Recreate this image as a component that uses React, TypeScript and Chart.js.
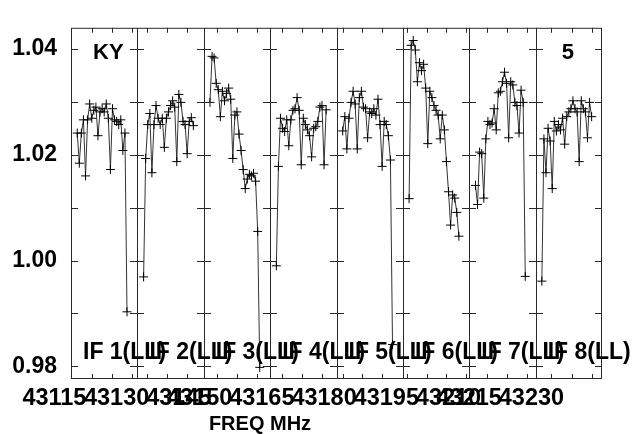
import { useEffect, useRef } from "react";
import { Chart, registerables } from "chart.js";

Chart.register(...registerables);

// ---- data -----------------------------------------------------------------
const SOURCE_NAME = "KY";
const PANEL_TAG = "5";
const X_TITLE = "FREQ MHz";

const IF_NAMES = ["IF 1(LL)", "IF 2(LL)", "IF 3(LL)", "IF 4(LL)", "IF 5(LL)", "IF 6(LL)", "IF 7(LL)", "IF 8(LL)"];
const IF_START_MHZ = [43119, 43135, 43151, 43167, 43183, 43199, 43215, 43231];
const IF_BANDWIDTH_MHZ = 16;
const FIRST_CHANNEL_OFFSET_MHZ = 1.5;
const CHANNEL_SPACING_MHZ = 0.5;

const IF1 = [1.0241, 1.0184, 1.0241, 1.0266, 1.016, 1.0266, 1.0296, 1.0269, 1.0284, 1.029, 1.0236, 1.0281, 1.0287, 1.0281, 1.0296, 1.0269, 1.0172, 1.0287, 1.0266, 1.0263, 1.0257, 1.0266, 1.0208, 1.0241, 0.9903];
const IF2 = [0.9969, 1.0193, 1.0257, 1.0278, 1.0166, 1.0257, 1.0293, 1.0269, 1.0257, 1.0269, 1.0214, 1.0269, 1.0281, 1.0293, 1.0302, 1.029, 1.0187, 1.0314, 1.0299, 1.0263, 1.0257, 1.0202, 1.0263, 1.027, 1.0255];
const IF3 = [1.0299, 1.0386, 1.0383, 1.0335, 1.0323, 1.0272, 1.032, 1.0302, 1.0316, 1.0326, 1.0305, 1.0193, 1.0275, 1.0281, 1.0239, 1.0208, 1.0172, 1.0136, 1.0154, 1.0163, 1.016, 1.0165, 1.015, 1.0055, 0.9798];
const IF4 = [0.999, 1.0178, 1.0269, 1.025, 1.0244, 1.0266, 1.0217, 1.0266, 1.0284, 1.0287, 1.0308, 1.0284, 1.0181, 1.0269, 1.0257, 1.0247, 1.0236, 1.0196, 1.025, 1.0253, 1.0263, 1.029, 1.0293, 1.0181, 1.0285];
const IF5 = [1.0245, 1.0272, 1.0211, 1.0269, 1.0299, 1.032, 1.0296, 1.0211, 1.0308, 1.032, 1.029, 1.0287, 1.0232, 1.0281, 1.0278, 1.0287, 1.0275, 1.0305, 1.0257, 1.0178, 1.0263, 1.0257, 1.0236, 1.019, 0.9841];
const IF6 = [1.0117, 1.0407, 1.0416, 1.0398, 1.0338, 1.0374, 1.0359, 1.0371, 1.0326, 1.0221, 1.032, 1.0308, 1.0293, 1.0284, 1.0275, 1.023, 1.0275, 1.0247, 1.0187, 1.013, 1.0067, 1.0124, 1.0118, 1.0091, 1.0046];
const IF7 = [1.0142, 1.0106, 1.0205, 1.0202, 1.0118, 1.023, 1.0263, 1.0257, 1.026, 1.0287, 1.0247, 1.0317, 1.032, 1.0338, 1.0356, 1.0335, 1.0232, 1.0338, 1.0332, 1.0299, 1.0293, 1.0241, 1.0322, 1.0299, 0.997];
const IF8 = [0.9961, 1.023, 1.0166, 1.025, 1.0226, 1.0136, 1.0263, 1.0245, 1.0257, 1.0247, 1.0269, 1.022, 1.0272, 1.0281, 1.0287, 1.0302, 1.0287, 1.0281, 1.0187, 1.0302, 1.0287, 1.0281, 1.0232, 1.0299, 1.0272];
const IF_SPECTRA = [IF1, IF2, IF3, IF4, IF5, IF6, IF7, IF8];

const X_TICK_VALUES = [
  43124.1, 43128.9, 43133.8,
  43137.4, 43142.2, 43147.0,
  43154.1, 43159.1, 43163.9,
  43169.8, 43174.7, 43179.6,
  43184.5, 43189.2, 43194.0,
  43199.9, 43204.7, 43209.5, 43214.3,
  43219.3, 43224.1, 43229.0,
  43234.8, 43239.8, 43244.6,
];
const X_LABEL_VALUES = [43115, 43130, 43145, 43150, 43165, 43180, 43195, 43210, 43215, 43230];
const X_LABELS = X_LABEL_VALUES.map((v) => String(v));

const Y_MIN = 0.9776;
const Y_MAX = 1.044;
const Y_TICK_VALUES = [0.98, 0.99, 1.0, 1.01, 1.02, 1.03, 1.04];
const Y_LABEL_VALUES = [0.98, 1.0, 1.02, 1.04];

// ---- drawing ----------------------------------------------------------------
const FONT_FAMILY = '"Liberation Sans", Arial, Helvetica, sans-serif';
const BOLD = (px: number) => `700 ${px}px ${FONT_FAMILY}`;

const framePlugin = {
  id: "possmFrame",
  afterDatasetsDraw(chart: any) {
    const { ctx, chartArea: a, scales } = chart;
    const xs = scales.x;
    const ys = scales.y;
    ctx.save();
    ctx.strokeStyle = "#2a2a2a";
    ctx.lineWidth = 1;

    // outer frame
    ctx.strokeRect(a.left + 0.5, a.top + 0.5, a.right - a.left - 1, a.bottom - a.top - 1);

    // IF dividers
    const bounds: number[] = [];
    IF_START_MHZ.forEach((s) => bounds.push(xs.getPixelForValue(s)));
    bounds.push(xs.getPixelForValue(IF_START_MHZ[IF_START_MHZ.length - 1] + IF_BANDWIDTH_MHZ));
    ctx.beginPath();
    for (let k = 1; k < bounds.length - 1; k++) {
      const px = Math.round(bounds[k]) + 0.5;
      ctx.moveTo(px, a.top);
      ctx.lineTo(px, a.bottom);
    }
    ctx.stroke();

    // y ticks on each panel edge
    ctx.beginPath();
    Y_TICK_VALUES.forEach((v) => {
      const py = Math.round(ys.getPixelForValue(v)) + 0.5;
      bounds.forEach((b, k) => {
        const bx = Math.round(b);
        const l = k === 0 ? bx : bx - 7;
        const r = k === bounds.length - 1 ? bx : bx + 7;
        ctx.moveTo(l, py);
        ctx.lineTo(r, py);
      });
    });
    ctx.stroke();

    // x ticks top & bottom
    ctx.beginPath();
    X_TICK_VALUES.forEach((v) => {
      const px = Math.round(xs.getPixelForValue(v)) + 0.5;
      ctx.moveTo(px, a.top);
      ctx.lineTo(px, a.top + 5);
      ctx.moveTo(px, a.bottom);
      ctx.lineTo(px, a.bottom - 5);
    });
    ctx.stroke();

    ctx.fillStyle = "#000";
    ctx.textBaseline = "middle";

    // source name and tag
    ctx.font = BOLD(22);
    ctx.textAlign = "left";
    ctx.fillText(SOURCE_NAME, a.left + 22, a.top + 25);
    ctx.textAlign = "right";
    ctx.fillText(PANEL_TAG, a.right - 28, a.top + 25);

    // IF names
    ctx.font = BOLD(23);
    ctx.textAlign = "left";
    IF_NAMES.forEach((name, k) => {
      ctx.fillText(name, bounds[k] + 12, a.bottom - 26);
    });

    // x tick labels
    ctx.font = BOLD(23.5);
    ctx.textAlign = "center";
    X_LABEL_VALUES.forEach((v, i) => {
      ctx.fillText(X_LABELS[i], xs.getPixelForValue(v), a.bottom + 20);
    });

    // x title
    ctx.font = BOLD(20);
    ctx.fillText(X_TITLE, a.left + 189, a.bottom + 45);
    ctx.restore();
  },
};

export default function App() {
  const ref = useRef<HTMLCanvasElement | null>(null);

  useEffect(() => {
    if (!ref.current) return;
    const datasets = IF_SPECTRA.map((vals, k) => ({
      label: IF_NAMES[k],
      data: vals.map((v, j) => ({
        x: IF_START_MHZ[k] + FIRST_CHANNEL_OFFSET_MHZ + j * CHANNEL_SPACING_MHZ,
        y: v,
      })),
      borderColor: "#333",
      borderWidth: 1,
      pointStyle: "cross",
      pointRadius: 4.5,
      pointBorderColor: "#000",
      pointBorderWidth: 1,
      pointBackgroundColor: "#000",
      fill: false,
      tension: 0,
    }));

    const chart = new Chart(ref.current, {
      type: "line",
      data: { datasets },
      plugins: [framePlugin],
      options: {
        animation: false,
        responsive: false,
        devicePixelRatio: 1,
        layout: { padding: { top: 12, right: 36, left: 0, bottom: 0 } },
        plugins: { legend: { display: false }, tooltip: { enabled: false } },
        scales: {
          x: {
            type: "linear",
            min: IF_START_MHZ[0],
            max: IF_START_MHZ[IF_START_MHZ.length - 1] + IF_BANDWIDTH_MHZ,
            ticks: { display: false },
            grid: { display: false },
            border: { display: false },
            afterFit: (s: any) => {
              s.height = 55;
            },
          },
          y: {
            type: "linear",
            min: Y_MIN,
            max: Y_MAX,
            afterBuildTicks: (s: any) => {
              s.ticks = Y_LABEL_VALUES.map((v) => ({ value: v }));
            },
            ticks: {
              callback: (v: any) => Number(v).toFixed(2),
              font: { family: FONT_FAMILY, size: 23, weight: "bold" },
              color: "#000",
              padding: 14,
            },
            grid: { display: false, drawTicks: false },
            border: { display: false },
            afterFit: (s: any) => {
              s.width = 71;
            },
          },
        },
      },
    } as any);
    return () => chart.destroy();
  }, []);

  return (
    <div style={{ position: "fixed", left: 0, top: 0, width: 638, height: 434, background: "#fff" }}>
      <canvas ref={ref} width={638} height={434} style={{ width: 638, height: 434, display: "block" }} />
    </div>
  );
}
